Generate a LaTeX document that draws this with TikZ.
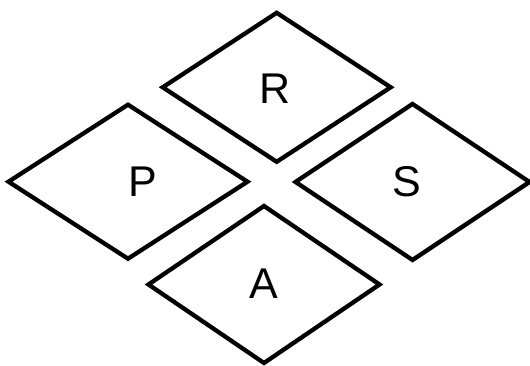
\documentclass[tikz,border=0pt]{standalone}
\usepackage{fontspec}
\setmainfont{Liberation Sans}
\usetikzlibrary{shapes.geometric}
\begin{document}
\begin{tikzpicture}[x=1pt,y=1pt,
  rhombus/.style={diamond,draw=black,line width=4.3pt,inner sep=0pt,outer sep=0pt,line join=miter},
  letter/.style={inner sep=0pt,font=\fontsize{43}{50}\selectfont}]
\useasboundingbox (0,0) rectangle (530,366);
\node[rhombus,minimum width=228pt,minimum height=149pt] (r) at (276.7,278.7) {};
\node[rhombus,minimum width=239pt,minimum height=154pt] (p) at (128,184.3) {};
\node[rhombus,minimum width=234pt,minimum height=156pt] (s) at (412.5,184) {};
\node[rhombus,minimum width=231pt,minimum height=157pt] (a) at (264,81.5) {};
\node[letter] (rl) at (275.5,277.2) {R};
\node[letter] (pl) at (142.5,184) {P};
\node[letter] (sl) at (407,184) {S};
\node[letter] (al) at (264,82) {A};
\end{tikzpicture}
\end{document}
